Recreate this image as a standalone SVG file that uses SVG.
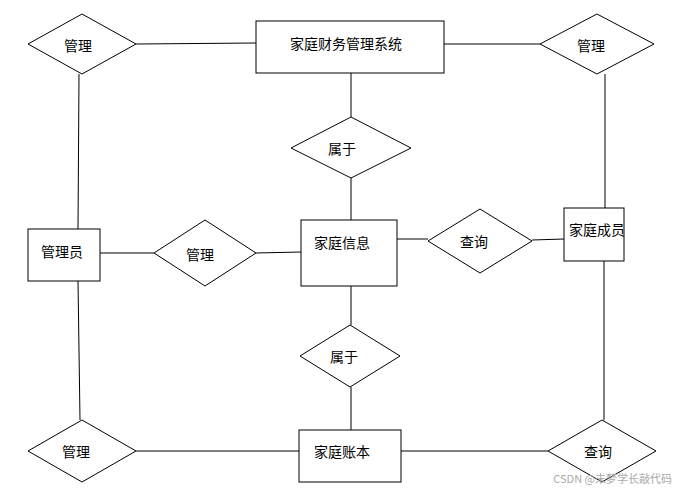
<svg xmlns="http://www.w3.org/2000/svg" width="678" height="492" viewBox="0 0 678 492">
<style>
.s{fill:#fff;stroke:#000;stroke-width:1}
.l{stroke:#000;stroke-width:1;fill:none}
text{font-family:"Noto Sans CJK SC","Liberation Sans",sans-serif;font-size:14px;fill:#000;text-anchor:middle;dominant-baseline:central}
.w{font-size:11px;fill:#aaa;text-anchor:end}
</style>
<rect width="678" height="492" fill="#fff"/>
<g id="connectors">
<line class="l" x1="136" y1="44" x2="256" y2="43"/>
<line class="l" x1="444" y1="44" x2="540" y2="44"/>
<line class="l" x1="351" y1="73" x2="351" y2="117"/>
<line class="l" x1="351" y1="178" x2="351" y2="220"/>
<line class="l" x1="79" y1="74" x2="78" y2="229"/>
<line class="l" x1="100" y1="253" x2="154" y2="253"/>
<line class="l" x1="256" y1="253" x2="301" y2="252"/>
<line class="l" x1="397" y1="239" x2="428" y2="239"/>
<line class="l" x1="532" y1="240" x2="564" y2="239"/>
<line class="l" x1="605" y1="74" x2="605" y2="208"/>
<line class="l" x1="604" y1="261" x2="604" y2="420"/>
<line class="l" x1="351" y1="286" x2="351" y2="325"/>
<line class="l" x1="351" y1="387" x2="351" y2="430"/>
<line class="l" x1="78" y1="281" x2="80" y2="420"/>
<line class="l" x1="136" y1="451" x2="299" y2="451"/>
<line class="l" x1="401" y1="451" x2="548" y2="451"/>
</g>
<g id="sys"><rect class="s" x="256" y="21" width="188" height="52"/><text x="346" y="43">家庭财务管理系统</text></g>
<g id="admin"><rect class="s" x="28" y="229" width="72" height="52"/><text x="62" y="251">管理员</text></g>
<g id="info"><rect class="s" x="301" y="220" width="96" height="66"/><text x="342" y="242">家庭信息</text></g>
<g id="member"><rect class="s" x="564" y="208" width="60" height="53"/><text x="597" y="229">家庭成员</text></g>
<g id="book"><rect class="s" x="299" y="430" width="102" height="52"/><text x="342" y="451">家庭账本</text></g>
<g id="d1"><polygon class="s" points="28,44 82,14 136,44 82,74"/><text x="78" y="45">管理</text></g>
<g id="d2"><polygon class="s" points="540,44 597,14 654,44 597,74"/><text x="591" y="45">管理</text></g>
<g id="d3"><polygon class="s" points="291,148 351,117 411,148 351,178"/><text x="342" y="148">属于</text></g>
<g id="d4"><polygon class="s" points="154,253 205,220 256,253 205,286"/><text x="200" y="254">管理</text></g>
<g id="d5"><polygon class="s" points="428,241 480,209 532,241 480,273"/><text x="474" y="241">查询</text></g>
<g id="d6"><polygon class="s" points="300,356 350,325 400,356 350,387"/><text x="344" y="356">属于</text></g>
<g id="d7"><polygon class="s" points="28,451 82,420 136,451 82,482"/><text x="76" y="451">管理</text></g>
<g id="d8"><polygon class="s" points="548,451 602,420 656,451 602,482"/><text x="598" y="451">查询</text></g>
<text class="w" x="672" y="478">CSDN @未梦学长敲代码</text>
</svg>
